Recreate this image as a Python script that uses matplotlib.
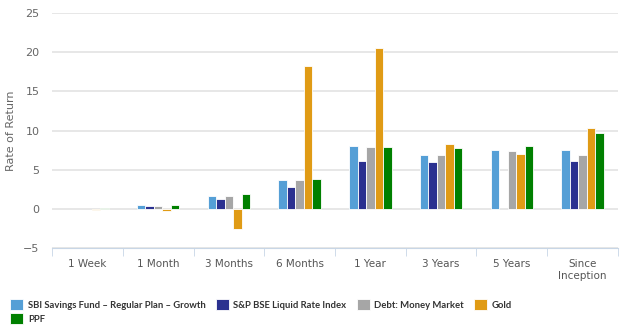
import matplotlib.pyplot as plt
import numpy as np

# data
periods = ['1 Week', '1 Month', '3 Months', '6 Months', '1 Year', '3 Years', '5 Years', 'Since\nInception']
series = ['SBI Savings Fund - Regular Plan - Growth', 'S&P BSE Liquid Rate Index',
          'Debt: Money Market', 'Gold', 'PPF']
sbi = [np.nan, 0.5, 1.6, 3.73, 8.03, 6.93, 7.48, 7.48]
bse = [np.nan, 0.42, 1.27, 2.76, 6.07, 5.95, np.nan, 6.07]
debt = [np.nan, 0.42, 1.6, 3.66, 7.9, 6.93, 7.35, 6.93]
gold = [-0.1, -0.3, -2.55, 18.2, 20.5, 8.24, 7.05, 10.37]
ppf = [0.15, 0.55, 1.87, 3.78, 7.9, 7.78, 8.03, 9.73]
colors = ['#559fd6', '#2b3190', '#a6a6a6', '#e09b15', '#008000']

fig = plt.figure(figsize=(6.28, 3.29), dpi=100)
ax = fig.add_axes([0.083, 0.246, 0.901, 0.714])

x = np.arange(len(periods))
w = 0.12
bars = []
for i, (vals, c) in enumerate(zip([sbi, bse, debt, gold, ppf], colors)):
    b = ax.bar(x + (i - 2) * w, vals, width=w, color=c, edgecolor='white', linewidth=0.6,
               label=series[i], zorder=3)
    bars.append(b)

ax.set_ylim(-5, 25)
ax.set_xlim(-0.5, len(periods) - 0.5)
ax.set_yticks(range(-5, 30, 5))
ax.yaxis.grid(True, color='#e3e3e3', linewidth=1.2, zorder=0)
ax.set_ylabel('Rate of Return', fontsize=8, color='#666666', labelpad=5)

for s in ['top', 'right', 'left']:
    ax.spines[s].set_visible(False)
ax.spines['bottom'].set_color('#c8d6e6')
ax.tick_params(axis='y', length=0, labelsize=8, labelcolor='#666666', pad=9)

# category labels and separator ticks
ax.set_xticks(x)
ax.set_xticklabels(periods, fontsize=7.5, color='#555555')
ax.tick_params(axis='x', length=0, pad=8)
ax.set_xticks(np.arange(-0.5, len(periods)), minor=True)
ax.tick_params(axis='x', which='minor', length=6, color='#c8d6e6')

# legend: PPF wraps under the first item
order = [0, 4, 1, 2, 3]
handles = [bars[i] for i in order]
labels = [series[i].replace(' - ', ' \u2013 ') for i in order]
leg = fig.legend(handles, labels, ncol=4, loc='lower left', bbox_to_anchor=(0.003, -0.01),
                 frameon=False, prop={'family': 'Lato', 'weight': 'bold', 'size': 6.8},
                 handlelength=1.35, handleheight=1.35,
                 handletextpad=0.5, columnspacing=1.1, labelspacing=0.35)
for t in leg.get_texts():
    t.set_color('#333333')

plt.savefig('out.png', dpi=100)
